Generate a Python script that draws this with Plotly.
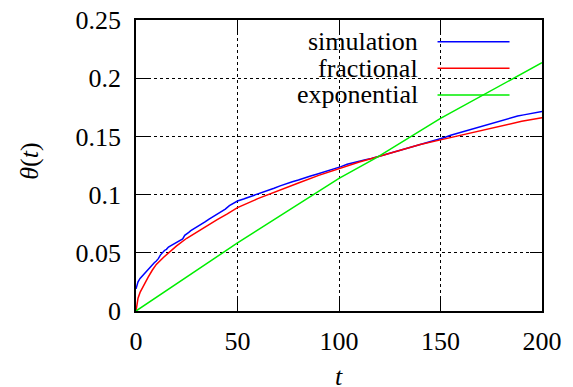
import plotly.graph_objects as go

# ---- data ----
t_sim = [0, 1, 2, 3, 4, 5, 6, 7, 8, 9, 10, 11, 12, 13, 14, 15, 16, 17, 18, 19, 20,
         21, 22, 23, 24, 25, 26, 27, 28, 30, 32, 34, 36, 38, 40, 42, 44, 46, 48, 50,
         53, 56, 59, 62, 65, 68, 71, 74, 77, 80, 83, 86, 89, 92, 95, 98, 101, 104,
         107, 110, 113, 116, 119, 122, 125, 128, 131, 134, 137, 140, 143, 146, 149,
         152, 155, 158, 161, 164, 167, 170, 173, 176, 179, 182, 185, 188, 191, 194,
         197, 200]
theta_sim = [0.019, 0.025, 0.028, 0.030, 0.032, 0.034, 0.036, 0.038, 0.040, 0.0415,
             0.043, 0.045, 0.048, 0.0505, 0.052, 0.053, 0.055, 0.056, 0.057, 0.058,
             0.059, 0.060, 0.0615, 0.062, 0.065, 0.066, 0.0675, 0.069, 0.070, 0.0725,
             0.0745, 0.0765, 0.079, 0.081, 0.0835, 0.0855, 0.0875, 0.0905, 0.0925, 0.0945,
             0.0962, 0.098, 0.0995, 0.1015, 0.1035, 0.1055, 0.1075, 0.1095, 0.111, 0.1125,
             0.1145, 0.116, 0.1175, 0.119, 0.1205, 0.1225, 0.124, 0.126, 0.1275, 0.129,
             0.130, 0.131, 0.1325, 0.134, 0.135, 0.1365, 0.138, 0.1395, 0.141, 0.1425,
             0.144, 0.1455, 0.1475, 0.149, 0.151, 0.1525, 0.1545, 0.156, 0.1575, 0.159,
             0.1605, 0.1615, 0.163, 0.165, 0.1665, 0.1675, 0.1685, 0.1695, 0.1705, 0.1715]

t_frac = [0, 0.5, 1, 2, 4, 6, 8, 10, 13.5, 16, 20, 25, 30, 35, 40, 45, 50, 60, 70, 80,
          90, 100, 110, 120, 130, 140, 150, 160, 170, 180, 190, 200]
theta_frac = [0, 0.007, 0.011, 0.016, 0.023, 0.029, 0.035, 0.040, 0.046, 0.050,
              0.056, 0.0625, 0.068, 0.0735, 0.0785, 0.0835, 0.0888, 0.0965, 0.1035, 0.110,
              0.1165, 0.1225, 0.128, 0.133, 0.138, 0.143, 0.147, 0.151, 0.155, 0.159,
              0.163, 0.166]

t_exp = [0, 50, 100, 118.7, 150, 200]
theta_exp = [0, 0.0585, 0.114, 0.132, 0.1655, 0.2133]

series_names = ["simulation", "fractional", "exponential"]
series_colors = ["#0000ff", "#ff0000", "#00ee00"]

x_ticks = [0, 50, 100, 150, 200]
y_ticks = [0, 0.05, 0.1, 0.15, 0.2, 0.25]
y_tick_labels = ["0", "0.05", "0.1", "0.15", "0.2", "0.25"]

FONT = "Times New Roman, Liberation Serif, DejaVu Serif, serif"

fig = go.Figure()
for (tx, ty), name, color in zip([(t_sim, theta_sim), (t_frac, theta_frac), (t_exp, theta_exp)],
                                 series_names, series_colors):
    fig.add_trace(go.Scatter(x=tx, y=ty, mode="lines", name=name,
                             line=dict(color=color, width=1.5), showlegend=False))

# gnuplot-style key: right-aligned text with line sample on the right
key_y = [0.9254, 0.834, 0.7423]
for name, color, ky in zip(series_names, series_colors, key_y):
    fig.add_annotation(xref="paper", yref="paper", x=0.700, y=ky, text=name,
                       showarrow=False, xanchor="right", yanchor="middle",
                       font=dict(family=FONT, size=26, color="black"))
    fig.add_shape(type="line", xref="paper", yref="paper", x0=0.7427, x1=0.920,
                  y0=ky, y1=ky, line=dict(color=color, width=1.5))

# axis titles
fig.add_annotation(xref="paper", yref="paper", x=0.5, y=-0.225, text="<i>t</i>",
                   showarrow=False, xanchor="center", yanchor="middle",
                   font=dict(family=FONT, size=26, color="black"))
fig.add_annotation(xref="paper", yref="paper", x=-0.261, y=0.513,
                   text="<i>θ</i>(<i>t</i>)", textangle=-90,
                   showarrow=False, xanchor="center", yanchor="middle",
                   font=dict(family=FONT, size=26, color="black"))

axis_common = dict(showgrid=True, gridcolor="black", griddash="dot", gridwidth=1,
                   showline=True, linecolor="black", linewidth=1.5, mirror="allticks",
                   ticks="inside", ticklen=12, tickcolor="black", tickwidth=1.2,
                   zeroline=False, automargin=False, ticklabeloverflow="allow",
                   tickfont=dict(family=FONT, size=26, color="black"))

fig.update_xaxes(range=[0, 200], tickvals=x_ticks, ticktext=[str(v) for v in x_ticks],
                 ticklabelstandoff=6, **axis_common)
fig.update_yaxes(range=[0, 0.25], tickvals=y_ticks, ticktext=y_tick_labels,
                 ticklabelstandoff=8, **axis_common)

# the page body adds an 8px offset, so the figure is 8px smaller on each side
fig.update_layout(width=565, height=379, plot_bgcolor="white", paper_bgcolor="white",
                  margin=dict(l=128, r=31, t=12, b=76), showlegend=False,
                  font=dict(family=FONT, size=26, color="black"))

fig.write_html("out.html")
